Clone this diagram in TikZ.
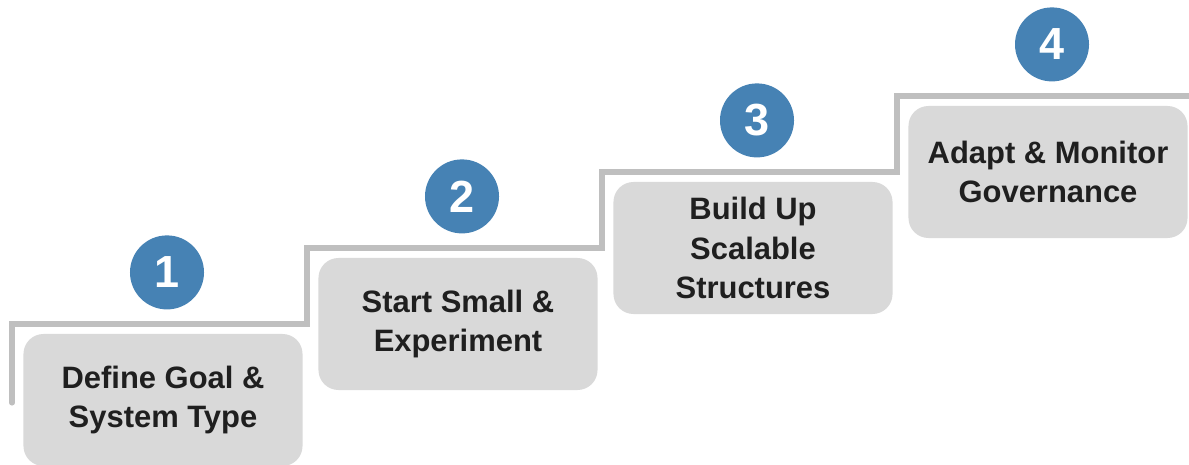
\documentclass[tikz,border=0pt]{standalone}
\usepackage{fontspec}
\setmainfont{Liberation Sans}
\usetikzlibrary{positioning}
\definecolor{stairgray}{HTML}{BFBFBF}
\definecolor{boxgray}{HTML}{D9D9D9}
\definecolor{numblue}{HTML}{4682B4}
\definecolor{textdark}{HTML}{1F1F1F}
\begin{document}
\begin{tikzpicture}[x=0.025cm,y=-0.025cm,
stepbox/.style={fill=boxgray,rounded corners=0.5cm,minimum width=6.975cm,minimum height=3.3cm,inner sep=0pt,align=center,text=textdark,font=\fontsize{22}{28}\selectfont\bfseries},
num/.style={circle,fill=numblue,minimum size=1.85cm,inner sep=0pt,text=white,font=\fontsize{32}{34}\selectfont\bfseries}]
\useasboundingbox(0,0)rectangle(1189,465);
\pgfmathsetmacro{\dx}{295}
\pgfmathsetmacro{\dy}{76}
% stair line
\draw[stairgray,line width=3.6pt,line cap=round](12,403)--(12,324)--(307,324)--(307,324-\dy)--(307+\dx,324-\dy)--(307+\dx,324-2*\dy)--(307+2*\dx,324-2*\dy)--(307+2*\dx,324-3*\dy)--(1195,324-3*\dy);
%
\node[stepbox](s1)at(163,400){Define Goal \&\\System Type};
\node[stepbox](s2)at(163+\dx,400-\dy){Start Small \&\\Experiment};
\node[stepbox](s3)at(163+2*\dx,400-2*\dy){Build Up\\Scalable\\Structures};
\node[stepbox](s4)at(163+3*\dx,400-3*\dy){Adapt \& Monitor\\Governance};
%
\node[num,above=0.6cm of s1,xshift=0.1cm](n1){1};
\node[num,above=0.6cm of s2,xshift=0.1cm](n2){2};
\node[num,above=0.6cm of s3,xshift=0.1cm](n3){3};
\node[num,above=0.6cm of s4,xshift=0.1cm](n4){4};
\end{tikzpicture}
\end{document}
